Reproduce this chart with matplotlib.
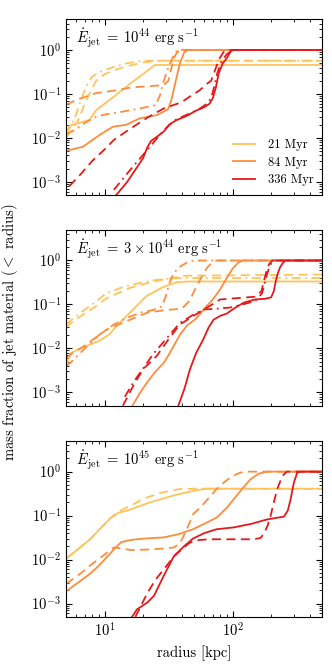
import numpy as np
import matplotlib
matplotlib.use("Agg")
import matplotlib.pyplot as plt

# Estilo tipo LaTeX (Computer Modern)
plt.rcParams['font.family'] = 'serif'
plt.rcParams['font.serif'] = ['cmr10']
plt.rcParams['mathtext.fontset'] = 'cm'
plt.rcParams['axes.formatter.use_mathtext'] = True
plt.rcParams['axes.unicode_minus'] = False

# Colores por tiempo
c21 = '#fec45a'
c84 = '#fd8d3c'
c336 = '#e31a1c'
labels = ['21 Myr', '84 Myr', '336 Myr']

# ---------- Panel 1: E_jet = 1e44 ----------
p1_y_sol_r = [5.0, 5.3, 5.98, 6.36, 7.63, 8.6, 12.0, 14.8, 20.0, 24.7, 500]
p1_y_sol_f = [0.011, 0.019, 0.021, 0.022, 0.026, 0.043, 0.09, 0.147, 0.285, 0.456, 0.456]
p1_y_das_r = [5.0, 5.5, 6.2, 7.0, 7.6, 8.6, 10, 12, 15, 20, 26, 500]
p1_y_das_f = [0.010, 0.015, 0.025, 0.06, 0.1, 0.2, 0.28, 0.35, 0.43, 0.52, 0.57, 0.57]
p1_y_dd_r = [5.0, 5.5, 6.0, 6.6, 7.2, 8.0, 9.5, 12, 15, 20, 500]
p1_y_dd_f = [0.012, 0.02, 0.035, 0.08, 0.15, 0.25, 0.33, 0.42, 0.5, 0.57, 0.57]

p1_o_sol_r = [5.0, 6.76, 9.14, 11.6, 14.8, 18.8, 25.5, 31.4, 33.5, 36, 38.8, 42, 45, 500]
p1_o_sol_f = [0.0051, 0.0063, 0.0117, 0.018, 0.02, 0.028, 0.033, 0.045, 0.08, 0.2, 0.5, 0.9, 1.0, 1.0]
p1_o_das_r = [5.0, 6.0, 8.6, 12, 16, 22, 29, 31.5, 33, 34.5, 36, 38, 40, 500]
p1_o_das_f = [0.057, 0.073, 0.105, 0.12, 0.14, 0.15, 0.16, 0.2, 0.35, 0.6, 0.8, 0.95, 1.0, 1.0]
p1_o_dd_r = [5.0, 6.0, 7.0, 8.5, 10, 14, 19, 25, 27, 29, 31, 33, 35, 37, 500]
p1_o_dd_f = [0.012, 0.016, 0.022, 0.03, 0.034, 0.04, 0.047, 0.056, 0.09, 0.2, 0.35, 0.55, 0.8, 1.0, 1.0]

p1_r_sol_r = [12.3, 15, 18, 20, 21.5, 23, 26, 29, 32, 36, 44, 52, 60, 66, 70, 74, 78, 84, 90, 96, 100, 500]
p1_r_sol_f = [0.0005, 0.001, 0.0022, 0.0035, 0.006, 0.0085, 0.011, 0.014, 0.02, 0.025, 0.032, 0.042,
              0.05, 0.06, 0.08, 0.14, 0.3, 0.5, 0.65, 0.9, 1.0, 1.0]
p1_r_das_r = [5.3, 6.5, 8, 10, 11.8, 16, 22, 29, 40, 47, 55, 63, 68, 73, 78, 85, 92, 500]
p1_r_das_f = [0.0008, 0.0015, 0.003, 0.0055, 0.009, 0.0165, 0.03, 0.047, 0.065, 0.09, 0.12, 0.17,
              0.2, 0.35, 0.6, 0.9, 1.0, 1.0]
p1_r_dd_r = [11.8, 15.9, 21.5, 29, 35, 45, 55, 63, 68, 72, 76, 82, 90, 100, 500]
p1_r_dd_f = [0.00066, 0.0019, 0.0053, 0.015, 0.025, 0.035, 0.046, 0.06, 0.08, 0.15, 0.3, 0.55, 0.8, 1.0, 1.0]

# ---------- Panel 2: E_jet = 3e44 ----------
p2_y_sol_r = [5.0, 5.47, 6.76, 9.14, 10.9, 12.7, 16.7, 21.2, 28.7, 36.5, 43.8, 500]
p2_y_sol_f = [0.004, 0.008, 0.0105, 0.015, 0.021, 0.035, 0.077, 0.155, 0.25, 0.32, 0.333, 0.333]
p2_y_das_r = [5.0, 5.7, 6.8, 8.5, 10.4, 15.9, 22, 29, 42, 500]
p2_y_das_f = [0.03, 0.042, 0.059, 0.09, 0.14, 0.24, 0.31, 0.37, 0.45, 0.48]
p2_y_dd_r = [5.0, 5.5, 6.5, 8, 10.4, 14, 19, 25, 32, 40, 500]
p2_y_dd_f = [0.035, 0.045, 0.065, 0.1, 0.184, 0.25, 0.31, 0.36, 0.39, 0.40, 0.40]

p2_o_sol_r = [16.5, 19, 21.5, 25, 29, 32, 35, 39, 44, 52, 60, 70, 80, 90, 100, 110, 120, 500]
p2_o_sol_f = [0.0005, 0.001, 0.0017, 0.003, 0.0047, 0.0075, 0.012, 0.021, 0.033, 0.048, 0.08, 0.13,
              0.22, 0.4, 0.65, 0.88, 1.0, 1.0]
p2_o_das_r = [5.0, 5.5, 6.8, 10.4, 14.9, 21.5, 30, 40, 46, 52, 58, 63, 68, 75, 500]
p2_o_das_f = [0.006, 0.0075, 0.011, 0.027, 0.042, 0.065, 0.075, 0.08, 0.12, 0.25, 0.45, 0.68, 0.85, 1.0, 1.0]
p2_o_dd_r = [5.0, 5.4, 7, 9, 11.8, 15, 19, 24, 28, 30, 32, 34.5, 38, 44, 50, 500]
p2_o_dd_f = [0.004, 0.0047, 0.01, 0.02, 0.035, 0.05, 0.065, 0.075, 0.09, 0.15, 0.3, 0.5, 0.7, 0.9, 1.0, 1.0]

p2_r_sol_r = [37.7, 42, 46.5, 52, 59, 65, 71, 80, 90, 102, 122, 150, 180, 200, 210, 218, 225, 235,
              245, 258, 500]
p2_r_sol_f = [0.0005, 0.0012, 0.0034, 0.008, 0.016, 0.03, 0.045, 0.055, 0.062, 0.08, 0.11, 0.13,
              0.135, 0.145, 0.2, 0.35, 0.5, 0.7, 0.85, 1.0, 1.0]
p2_r_das_r = [13.9, 16.7, 20, 25.5, 32.4, 38.8, 49.4, 62.8, 80, 110, 150, 168, 178, 186, 194, 205, 500]
p2_r_das_f = [0.0005, 0.0014, 0.0034, 0.0067, 0.018, 0.035, 0.055, 0.084, 0.13, 0.14, 0.15, 0.2,
              0.4, 0.65, 0.85, 1.0, 1.0]
p2_r_dd_r = [14.4, 17, 20, 24, 30, 38.8, 50, 60, 75, 95, 120, 150, 170, 180, 190, 200, 210, 500]
p2_r_dd_f = [0.0008, 0.0018, 0.0035, 0.0075, 0.016, 0.038, 0.06, 0.077, 0.08, 0.085, 0.1, 0.12,
             0.18, 0.35, 0.6, 0.85, 1.0, 1.0]

# ---------- Panel 3: E_jet = 1e45 ----------
p3_y_sol_r = [5.0, 6.0, 7.7, 9.5, 11, 12.9, 15, 22.6, 35, 50, 63, 500]
p3_y_sol_f = [0.0105, 0.016, 0.029, 0.055, 0.085, 0.117, 0.13, 0.2, 0.29, 0.37, 0.41, 0.41]
p3_y_das_r = [5.0, 6.0, 7.7, 9.5, 11, 12.5, 15.9, 20, 27.3, 38, 50, 500]
p3_y_das_f = [0.0105, 0.016, 0.029, 0.055, 0.085, 0.12, 0.166, 0.24, 0.33, 0.40, 0.41, 0.40]

p3_o_sol_r = [5.0, 6.0, 7.5, 8.7, 10, 11.8, 13.5, 16, 20, 29, 38, 49, 60, 75, 90, 102, 120, 138,
              160, 186, 500]
p3_o_sol_f = [0.0019, 0.0028, 0.0045, 0.0066, 0.01, 0.017, 0.025, 0.028, 0.03, 0.032, 0.038, 0.049,
              0.065, 0.09, 0.15, 0.235, 0.42, 0.67, 0.9, 1.0, 1.0]
p3_o_das_r = [5.0, 6.4, 8, 10, 11.8, 13.5, 16, 22, 30, 35, 39, 44, 49.4, 55.7, 65, 75, 85, 100,
              115, 130, 500]
p3_o_das_f = [0.0028, 0.0047, 0.008, 0.013, 0.019, 0.018, 0.0165, 0.017, 0.018, 0.019, 0.024, 0.05,
              0.11, 0.15, 0.25, 0.4, 0.56, 0.8, 0.95, 1.0, 1.0]

p3_r_sol_r = [16.4, 17.9, 21.5, 24.3, 29, 34.8, 41.7, 49, 60, 75, 102, 140, 186, 252, 270, 284,
              301, 320, 340, 500]
p3_r_sol_f = [0.0005, 0.00074, 0.00105, 0.0015, 0.0043, 0.012, 0.02, 0.03, 0.04, 0.049, 0.054,
              0.065, 0.082, 0.095, 0.13, 0.235, 0.56, 0.95, 1.0, 1.0]
p3_r_das_r = [17.4, 21.5, 25, 29, 35, 41.7, 46.5, 55, 67, 100, 146, 165, 175, 188, 198, 210, 223,
              245, 265, 500]
p3_r_das_f = [0.0005, 0.0017, 0.0035, 0.006, 0.012, 0.019, 0.0245, 0.028, 0.029, 0.029, 0.029,
              0.031, 0.038, 0.06, 0.098, 0.2, 0.4, 0.8, 1.0, 1.0]

titles = [r'$\dot{E}_{\rm jet}\;=\;10^{44}\ {\rm erg\ s^{-1}}$',
          r'$\dot{E}_{\rm jet}\;=\;3\times10^{44}\ {\rm erg\ s^{-1}}$',
          r'$\dot{E}_{\rm jet}\;=\;10^{45}\ {\rm erg\ s^{-1}}$']

panels = [
    [(p1_y_sol_r, p1_y_sol_f, c21, '-'), (p1_y_das_r, p1_y_das_f, c21, '--'), (p1_y_dd_r, p1_y_dd_f, c21, '-.'),
     (p1_o_sol_r, p1_o_sol_f, c84, '-'), (p1_o_das_r, p1_o_das_f, c84, '--'), (p1_o_dd_r, p1_o_dd_f, c84, '-.'),
     (p1_r_sol_r, p1_r_sol_f, c336, '-'), (p1_r_das_r, p1_r_das_f, c336, '--'), (p1_r_dd_r, p1_r_dd_f, c336, '-.')],
    [(p2_y_sol_r, p2_y_sol_f, c21, '-'), (p2_y_das_r, p2_y_das_f, c21, '--'), (p2_y_dd_r, p2_y_dd_f, c21, '-.'),
     (p2_o_sol_r, p2_o_sol_f, c84, '-'), (p2_o_das_r, p2_o_das_f, c84, '--'), (p2_o_dd_r, p2_o_dd_f, c84, '-.'),
     (p2_r_sol_r, p2_r_sol_f, c336, '-'), (p2_r_das_r, p2_r_das_f, c336, '--'), (p2_r_dd_r, p2_r_dd_f, c336, '-.')],
    [(p3_y_sol_r, p3_y_sol_f, c21, '-'), (p3_y_das_r, p3_y_das_f, c21, '--'),
     (p3_o_sol_r, p3_o_sol_f, c84, '-'), (p3_o_das_r, p3_o_das_f, c84, '--'),
     (p3_r_sol_r, p3_r_sol_f, c336, '-'), (p3_r_das_r, p3_r_das_f, c336, '--')],
]

fig = plt.figure(figsize=(3.32, 6.64), dpi=100)
bottoms = [0.706, 0.389, 0.071]

for i, curves in enumerate(panels):
    ax = fig.add_axes([0.199, bottoms[i], 0.771, 0.265])
    for r, f, col, ls in curves:
        if ls == '--':
            ax.plot(r, f, color=col, ls=ls, lw=1.3, dashes=(5, 3))
        elif ls == '-.':
            ax.plot(r, f, color=col, ls=ls, lw=1.3, dashes=(5, 2.5, 1, 2.5))
        else:
            ax.plot(r, f, color=col, ls=ls, lw=1.3)
    ax.set_xscale('log')
    ax.set_yscale('log')
    ax.set_xlim(5, 500)
    ax.set_ylim(5e-4, 5)
    ax.set_yticks([1e-3, 1e-2, 1e-1, 1e0])
    ax.tick_params(which='both', direction='in', top=True, right=True, labelsize=10.5)
    ax.tick_params(which='major', length=4.5, width=0.8)
    ax.tick_params(which='minor', length=2.3, width=0.6)
    for s in ax.spines.values():
        s.set_linewidth(0.8)
    ax.text(0.04, 0.96, titles[i], transform=ax.transAxes, ha='left', va='top', fontsize=10.5)
    if i < 2:
        ax.set_xticklabels([])
    else:
        ax.set_xlabel('radius [kpc]', fontsize=10.5)
    if i == 0:
        hs = [plt.Line2D([], [], color=c, lw=1.3) for c in [c21, c84, c336]]
        ax.legend(hs, labels, loc='lower right', frameon=False, fontsize=9,
                  handlelength=1.8, handletextpad=1.0, labelspacing=0.45, borderaxespad=0.3)

fig.text(0.03, 0.5, r'mass fraction of jet material ($<$ radius)', rotation=90,
         ha='center', va='center', fontsize=10.5)

plt.savefig('out.png', dpi=100)
